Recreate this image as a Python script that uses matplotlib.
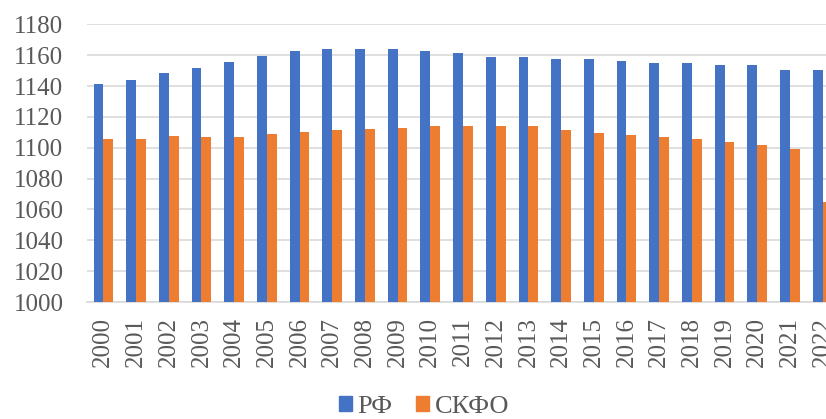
from matplotlib import pyplot as plt
from matplotlib.patches import Patch
import numpy as np

years = [str(y) for y in range(2000, 2023)]
rf_values = [1141.0, 1143.7, 1148.2, 1151.9, 1155.4, 1159.7, 1162.4, 1163.7, 1163.7, 1163.7,
             1162.4, 1161.7, 1159.1, 1158.5, 1157.2, 1157.2, 1155.9, 1154.6, 1154.6, 1153.9,
             1153.9, 1150.7, 1150.7]
skfo_values = [1105.4, 1105.4, 1107.4, 1106.7, 1106.7, 1108.6, 1110.0, 1111.2, 1111.9, 1113.0,
               1114.3, 1114.3, 1114.3, 1114.3, 1111.7, 1109.7, 1108.4, 1107.1, 1105.4, 1103.5,
               1101.9, 1098.9, 1064.8]
series_names = ["РФ", "СКФО"]
y_ticks = list(range(1000, 1181, 20))

blue = "#4472C4"
orange = "#ED7D31"
text_color = "#595959"

plt.rcParams['font.family'] = ['Liberation Serif', 'DejaVu Serif']

fig = plt.figure(figsize=(8.26, 4.19), dpi=100)
# the reference crops the chart on the right, so the axes run past the figure edge
ax = fig.add_axes([87 / 826, 1 - 302 / 419, 752 / 826, (302 - 24.3) / 419])

x = np.arange(len(years))
width = 0.3
ax.bar(x - width / 2, rf_values, width, color=blue, zorder=3)
ax.bar(x + width / 2, skfo_values, width, color=orange, zorder=3)

ax.set_xlim(-0.5, len(years) - 0.5)
ax.set_ylim(1000, 1180)
ax.set_yticks(y_ticks)
ax.set_xticks(x)
ax.set_xticklabels(years, rotation=90)
ax.yaxis.grid(True, color="#D9D9D9", linewidth=1.2, zorder=0)
ax.tick_params(axis="y", length=0, pad=17, labelsize=18, labelcolor=text_color)
ax.tick_params(axis="x", length=0, pad=11, labelsize=18, labelcolor=text_color)
for side in ["top", "right", "left"]:
    ax.spines[side].set_visible(False)
ax.spines["bottom"].set_color("#D9D9D9")
ax.spines["bottom"].set_linewidth(1.2)

handles = [Patch(color=blue), Patch(color=orange)]
fig.legend(handles, series_names, loc="center", bbox_to_anchor=(424 / 826, 1 - 407 / 419),
           ncol=2, frameon=False, fontsize=19, labelcolor=text_color,
           handlelength=0.5, handleheight=0.5, handletextpad=0.2, columnspacing=0.9)

fig.savefig("out.png", dpi=100)
